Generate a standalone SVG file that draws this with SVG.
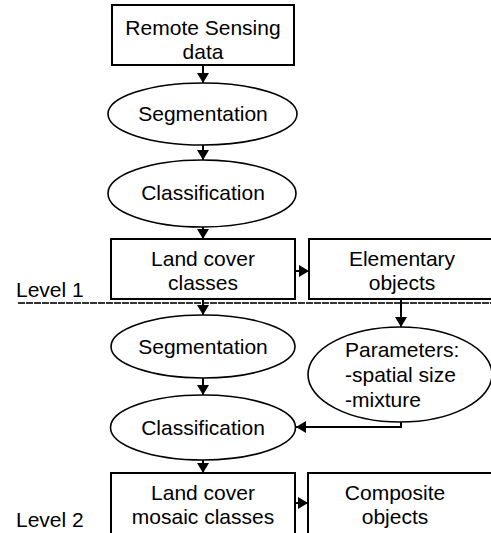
<svg xmlns="http://www.w3.org/2000/svg" width="491" height="533" viewBox="0 0 491 533">
<style>
  .box { fill: #fff; stroke: #000; stroke-width: 2; }
  .ell { fill: #fff; stroke: #000; stroke-width: 1.6; }
  .t { font-family: "Liberation Sans", Arial, sans-serif; font-size: 21px; fill: #000; }
  .c { text-anchor: middle; }
  .conn { fill: none; stroke: #000; stroke-width: 2; }
  .sep { stroke: #333; stroke-width: 1.8; stroke-dasharray: 7 1; }
</style>
<defs>
  <marker id="ah" viewBox="0 0 10 12" refX="10" refY="6" markerWidth="10" markerHeight="12" markerUnits="userSpaceOnUse" orient="auto">
    <path d="M0,0 L10,6 L0,12 Z" fill="#000"/>
  </marker>
</defs>
<rect width="491" height="533" fill="#fff"/>
<line class="sep" x1="18" y1="303" x2="491" y2="303"/>
<text class="t" x="16" y="297">Level 1</text>
<text class="t" x="16" y="527">Level 2</text>

<g id="connectors">
  <line class="conn" x1="203" y1="65" x2="203" y2="83" marker-end="url(#ah)"/>
  <line class="conn" x1="203" y1="145" x2="203" y2="160" marker-end="url(#ah)"/>
  <line class="conn" x1="203" y1="227" x2="203" y2="239" marker-end="url(#ah)"/>
  <line class="conn" x1="295" y1="271" x2="309" y2="271" marker-end="url(#ah)"/>
  <line class="conn" x1="203" y1="299" x2="203" y2="315" marker-end="url(#ah)"/>
  <line class="conn" x1="401" y1="299" x2="401" y2="327" marker-end="url(#ah)"/>
  <line class="conn" x1="203" y1="378" x2="203" y2="395" marker-end="url(#ah)"/>
  <polyline class="conn" points="401,421 401,427 296,427" marker-end="url(#ah)"/>
  <line class="conn" x1="203" y1="460" x2="203" y2="473" marker-end="url(#ah)"/>
  <line class="conn" x1="295" y1="503" x2="308" y2="503" marker-end="url(#ah)"/>
</g>

<g id="rs-data">
  <rect class="box" x="112" y="5" width="182" height="60"/>
  <text class="t c" x="203" y="35">Remote Sensing</text>
  <text class="t c" x="203" y="59">data</text>
</g>
<g id="segmentation-1">
  <ellipse class="ell" cx="202.5" cy="114" rx="94.5" ry="31"/>
  <text class="t c" x="203" y="121">Segmentation</text>
</g>
<g id="classification-1">
  <ellipse class="ell" cx="202" cy="193.5" rx="94" ry="33.5"/>
  <text class="t c" x="203" y="200">Classification</text>
</g>
<g id="land-cover-classes">
  <rect class="box" x="111" y="239" width="184" height="60"/>
  <text class="t c" x="203" y="266">Land cover</text>
  <text class="t c" x="203" y="290">classes</text>
</g>
<g id="elementary-objects">
  <rect class="box" x="309" y="239" width="190" height="60"/>
  <text class="t c" x="402" y="266">Elementary</text>
  <text class="t c" x="402" y="290">objects</text>
</g>
<g id="segmentation-2">
  <ellipse class="ell" cx="203" cy="346.5" rx="92" ry="31.5"/>
  <text class="t c" x="203" y="354">Segmentation</text>
</g>
<g id="parameters">
  <ellipse class="ell" cx="400" cy="374.5" rx="92" ry="47.5"/>
  <text class="t" x="345" y="357">Parameters:</text>
  <text class="t" x="345" y="382">-spatial size</text>
  <text class="t" x="345" y="407">-mixture</text>
</g>
<g id="classification-2">
  <ellipse class="ell" cx="203" cy="427.5" rx="92.5" ry="32.5"/>
  <text class="t c" x="203" y="435">Classification</text>
</g>
<g id="land-cover-mosaic">
  <rect class="box" x="111" y="473" width="184" height="70"/>
  <text class="t c" x="203" y="500">Land cover</text>
  <text class="t c" x="203" y="524">mosaic classes</text>
</g>
<g id="composite-objects">
  <rect class="box" x="308" y="473" width="190" height="70"/>
  <text class="t c" x="395" y="500">Composite</text>
  <text class="t c" x="395" y="524">objects</text>
</g>
</svg>
